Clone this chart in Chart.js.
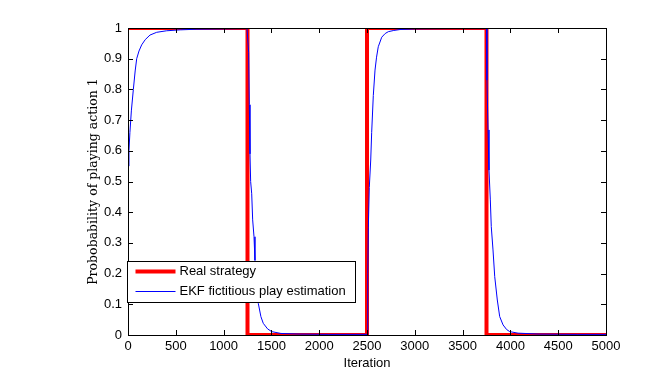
<!DOCTYPE html>
<html>
<head>
<meta charset="utf-8">
<script src="https://cdn.jsdelivr.net/npm/chart.js@4"></script>
<style>
  html, body { margin: 0; padding: 0; background: #fff; }
  #wrap { width: 670px; height: 376px; }
</style>
</head>
<body>
<div id="wrap"><canvas id="c" width="670" height="376"></canvas></div>
<script>
// --- data ---
const realIter = [0, 1250, 1250, 2500, 2500, 3750, 3750, 5000];
const realProb = [1, 1, 0, 0, 1, 1, 0, 0];

const ekfIter = [
  0, 10, 20, 35, 56, 75, 91, 115, 143, 180, 230, 300, 405, 550, 720, 1000, 1245,
  1262, 1269, 1276, 1283, 1294, 1304, 1318, 1328, 1345, 1363, 1390, 1415, 1460, 1503, 1600, 1800, 2100, 2500,
  2508, 2514, 2524, 2539, 2549, 2566, 2584, 2600, 2618, 2654, 2690, 2723, 2780, 2845, 3000, 3400, 3750,
  3755, 3766, 3776, 3790, 3800, 3818, 3836, 3863, 3888, 3923, 3960, 3993, 4080, 4300, 4700, 5000
];
const ekfProb = [
  0.55, 0.60, 0.66, 0.73, 0.80, 0.86, 0.90, 0.925, 0.945, 0.962, 0.977, 0.986, 0.991, 0.994, 0.996, 0.997, 0.998,
  0.92, 0.75, 0.59, 0.50, 0.46, 0.375, 0.32, 0.244, 0.16, 0.103, 0.06, 0.038, 0.02, 0.011, 0.005, 0.003, 0.002, 0.002,
  0.20, 0.35, 0.48, 0.57, 0.66, 0.78, 0.863, 0.905, 0.939, 0.97, 0.982, 0.988, 0.992, 0.995, 0.997, 0.998, 0.998,
  0.83, 0.668, 0.537, 0.44, 0.353, 0.277, 0.19, 0.114, 0.06, 0.033, 0.018, 0.011, 0.006, 0.003, 0.002, 0.002
];

const seriesLabels = ['Real strategy', 'EKF fictitious play estimation'];
const xTitle = 'Iteration';
const yTitle = 'Probobability of playing action 1';

const pts = (xs, ys) => xs.map((x, i) => ({ x, y: ys[i] }));

const sans = 'Liberation Sans, Arial, sans-serif';

// MATLAB style box with inward ticks and a boxed legend
const matlabAxes = {
  id: 'matlabAxes',
  afterDatasetsDraw(chart) {
    const { ctx, chartArea: a, scales: { x, y } } = chart;
    ctx.save();
    ctx.strokeStyle = '#000';
    ctx.lineWidth = 1;
    ctx.beginPath();
    x.ticks.forEach(t => {
      const px = Math.round(x.getPixelForValue(t.value)) + 0.5;
      ctx.moveTo(px, a.bottom); ctx.lineTo(px, a.bottom - 5);
      ctx.moveTo(px, a.top); ctx.lineTo(px, a.top + 5);
    });
    y.ticks.forEach(t => {
      const py = Math.round(y.getPixelForValue(t.value)) + 0.5;
      ctx.moveTo(a.left, py); ctx.lineTo(a.left + 5, py);
      ctx.moveTo(a.right, py); ctx.lineTo(a.right - 5, py);
    });
    ctx.stroke();
    ctx.strokeRect(Math.round(a.left) + 0.5, Math.round(a.top) + 0.5,
      Math.round(a.right - a.left), Math.round(a.bottom - a.top));

    // legend
    const lx = Math.round(a.left) - 0.5, ly = Math.round(a.bottom) - 73.5;
    ctx.fillStyle = '#fff';
    ctx.fillRect(lx, ly, 228, 41);
    ctx.strokeRect(lx, ly, 228, 41);
    ctx.font = '13px ' + sans;
    ctx.textBaseline = 'middle';
    chart.data.datasets.forEach((ds, i) => {
      const cy = ly + 10 + i * 20;
      ctx.strokeStyle = ds.borderColor;
      ctx.lineWidth = ds.borderWidth;
      ctx.beginPath();
      ctx.moveTo(lx + 8, cy); ctx.lineTo(lx + 48, cy);
      ctx.stroke();
      ctx.fillStyle = '#000';
      ctx.fillText(ds.label, lx + 52, cy);
    });
    ctx.restore();
  }
};

new Chart(document.getElementById('c'), {
  type: 'line',
  data: {
    datasets: [
      { label: seriesLabels[0], data: pts(realIter, realProb), borderColor: '#ff0000',
        borderWidth: 4, pointRadius: 0, clip: 0, order: 1 },
      { label: seriesLabels[1], data: pts(ekfIter, ekfProb), borderColor: '#0000ff',
        borderWidth: 1, pointRadius: 0, clip: 0, order: 0 },
    ],
  },
  options: {
    responsive: false,
    animation: false,
    parsing: true,
    layout: { padding: { left: 86, top: 28, right: 64, bottom: 0 } },
    plugins: { legend: { display: false }, tooltip: { enabled: false } },
    scales: {
      x: {
        type: 'linear', min: 0, max: 5000,
        afterFit: s => { s.height = 41; },
        grid: { display: false, drawTicks: false },
        border: { display: false },
        ticks: { stepSize: 500, color: '#000', padding: 4, maxRotation: 0,
                 font: { family: sans, size: 13 }, callback: v => String(v) },
        title: { display: true, text: xTitle, color: '#000', padding: { top: 0, bottom: 5 },
                 font: { family: sans, size: 13 } },
      },
      y: {
        type: 'linear', min: 0, max: 1,
        afterFit: s => { s.width = 42; },
        grid: { display: false, drawTicks: false },
        border: { display: false },
        ticks: { stepSize: 0.1, color: '#000', padding: 6,
                 font: { family: sans, size: 13 }, callback: v => String(Math.round(v * 10) / 10) },
        title: { display: true, text: yTitle, color: '#000', padding: 0,
                 font: { family: 'DejaVu Serif, serif', size: 12.5 } },
      },
    },
  },
  plugins: [matlabAxes],
});
</script>
</body>
</html>
